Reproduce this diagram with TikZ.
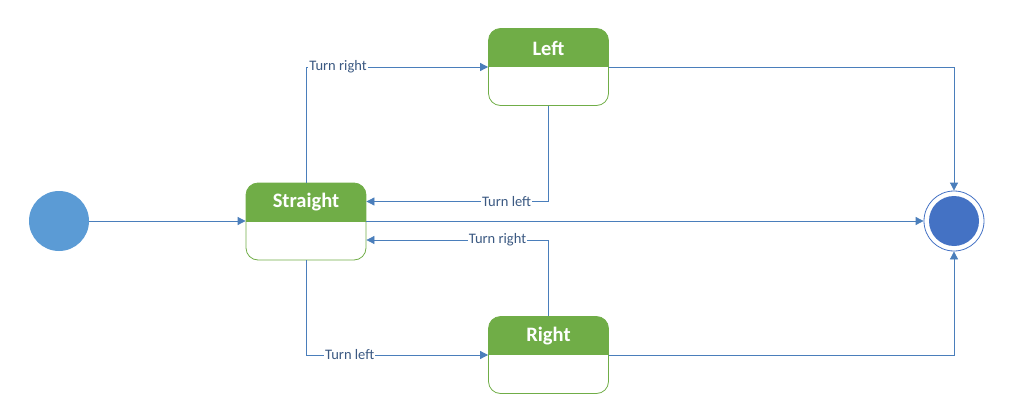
\documentclass[tikz,border=0pt]{standalone}
\usepackage{fontspec}
\setmainfont{Carlito}
\usetikzlibrary{arrows.meta}
\definecolor{stgreen}{RGB}{112,173,71}
\definecolor{lnblue}{RGB}{74,126,187}
\definecolor{lbltext}{RGB}{59,89,130}
\definecolor{startblue}{RGB}{91,155,213}
\definecolor{endblue}{RGB}{68,114,196}
\tikzset{
  statebox/.style={draw=stgreen, line width=0.8pt, rounded corners=12pt,
    minimum width=120pt, minimum height=77pt, inner sep=0pt,
    path picture={\fill[stgreen, sharp corners] (path picture bounding box.north west) rectangle ([yshift=-38.5pt]path picture bounding box.north east);}},
  stitle/.style={text=white, font=\fontsize{20.5}{24}\selectfont\bfseries, inner sep=0pt},
  conn/.style={draw=lnblue, line width=0.8pt, -{Triangle[length=8pt,width=8pt]}},
  lbl/.style={fill=white, text=lbltext, font=\fontsize{14.5}{17}\selectfont, inner sep=1pt},
}
\begin{document}
\begin{tikzpicture}[x=1pt,y=-1pt]
\useasboundingbox (0,0) rectangle (1026,420);
\node[circle, fill=startblue, minimum size=60pt, inner sep=0pt] (start) at (59,221) {};
\node[statebox] (straight) at (306,221.5) {};
\node[stitle] (straightt) at (306,202) {Straight};
\node[statebox] (left) at (548.5,67) {};
\node[stitle] (leftt) at (548.5,48) {Left};
\node[statebox] (right) at (548.5,355) {};
\node[stitle] (rightt) at (548.5,336) {Right};
\node[circle, draw=endblue, line width=0.8pt, minimum size=60pt, inner sep=0pt,
  path picture={\fill[endblue] (path picture bounding box.center) circle (25pt);}] (end) at (954,221) {};

\draw[conn] (start) -- (straight.west |- start);
\draw[conn] (straight.east |- end) -- (end.west);
\draw[conn] (straight.north) |- node[lbl, pos=0.588] {Turn right} (left.west);
\draw[conn] (left.south) |- node[lbl, pos=0.615] {Turn left} ([yshift=20pt]straight.east);
\draw[conn] (right.north) |- node[lbl, pos=0.64] {Turn right} ([yshift=-18.5pt]straight.east);
\draw[conn] (straight.south) |- node[lbl, pos=0.62] {Turn left} (right.west);
\draw[conn] (left.east) -| (end.north);
\draw[conn] (right.east) -| (end.south);
\end{tikzpicture}
\end{document}
